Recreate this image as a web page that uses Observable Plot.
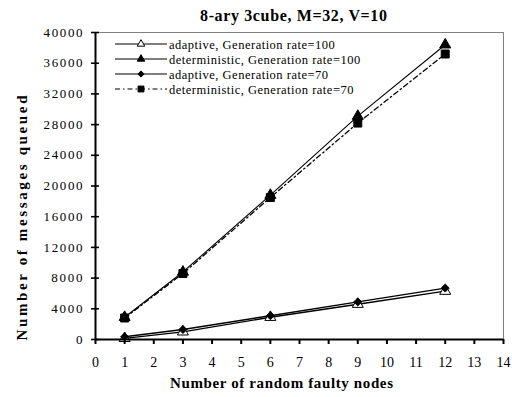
<!DOCTYPE html>
<html><head><meta charset="utf-8">
<script src="https://cdn.jsdelivr.net/npm/d3@7"></script>
<script src="https://cdn.jsdelivr.net/npm/@observablehq/plot@0.6"></script>
<style>body{margin:0;background:#fff} svg{display:block}</style>
</head><body><div id="chart"></div>
<script>
const faultyNodes = [1, 3, 6, 9, 12];
const adaptive100 = [150, 1000, 2900, 4600, 6300];
const deterministic100 = [2900, 8800, 18800, 29100, 38400];
const adaptive70 = [350, 1300, 3100, 4900, 6700];
const deterministic70 = [2800, 8600, 18500, 28200, 37200];
const xTicks = d3.range(0, 15);
const yTicks = [0, 4000, 8000, 12000, 16000, 20000, 24000, 28000, 32000, 36000, 40000];
const seriesNames = [
  "adaptive, Generation rate=100",
  "deterministic, Generation rate=100",
  "adaptive, Generation rate=70",
  "deterministic, Generation rate=70"
];
const titleText = "8-ary 3cube, M=32, V=10";
const xLabel = "Number of random faulty nodes";
const yLabel = "Number of messages queued";

const seriesValues = [adaptive100, deterministic100, adaptive70, deterministic70];
const styles = [
  {symbol: "triangle", fill: "white", r: 4.1, legR: 2.8, dash: null, w: 1.4},
  {symbol: "triangle", fill: "black", r: 4.1, legR: 2.8, dash: null, w: 1.1},
  {symbol: "diamond2", fill: "black", r: 3.6, legR: 2.8, dash: null, w: 1.4},
  {symbol: "square", fill: "black", r: 4.5, legR: 3.3, dash: "5,3,1.5,3", w: 1.3}
];
const series = seriesNames.map((name, i) => ({
  name, style: styles[i],
  data: faultyNodes.map((x, j) => ({x, y: seriesValues[i][j]}))
}));
const serif = "Liberation Serif, Times New Roman, serif";
const drawOrder = [0, 2, 3, 1];

const symMap = {triangle: d3.symbolTriangle, diamond2: d3.symbolDiamond2, square: d3.symbolSquare};

function legend(index, scales, values, dimensions) {
  const g = d3.create("svg:g").attr("font-family", serif).attr("text-anchor", "start");
  series.forEach((s, i) => {
    const y = 44 + i * 15;
    const row = g.append("g");
    row.append("line").attr("x1", 115).attr("x2", 167).attr("y1", y).attr("y2", y)
      .attr("stroke", "black").attr("stroke-width", 1.2)
      .attr("stroke-dasharray", s.style.dash);
    row.append("path").attr("transform", `translate(141,${y})`)
      .attr("d", d3.symbol(symMap[s.style.symbol], Math.PI * s.style.legR ** 2)())
      .attr("fill", s.style.fill).attr("stroke", "black").attr("stroke-width", 1);
    row.append("text").attr("x", 169).attr("y", y + 4.5)
      .attr("font-size", 12.5).attr("letter-spacing", 0.5).attr("fill", "black")
      .text(s.name);
  });
  return g.node();
}

function titles(index, scales, values, dimensions) {
  const {height, marginBottom} = dimensions;
  const g = d3.create("svg:g").attr("font-family", serif).attr("font-weight", "bold")
    .attr("fill", "black").attr("text-anchor", "middle");
  g.append("text").attr("x", 293.5).attr("y", 21)
    .attr("font-size", 16).attr("textLength", 187).attr("lengthAdjust", "spacing").text(titleText);
  g.append("text").attr("x", 281.5).attr("y", height - marginBottom + 49)
    .attr("font-size", 15).attr("textLength", 223).attr("lengthAdjust", "spacing").text(xLabel);
  g.append("text").attr("transform", "translate(27,218) rotate(-90)")
    .attr("font-size", 15).attr("textLength", 245).attr("lengthAdjust", "spacing").text(yLabel);
  return g.node();
}

const marks = [
  Plot.frame({stroke: "#808080", strokeWidth: 1}),
  ...drawOrder.map(i => Plot.line(series[i].data, {
    x: "x", y: "y", stroke: "black", strokeWidth: series[i].style.w,
    strokeDasharray: series[i].style.dash
  })),
  ...drawOrder.map(i => Plot.dot(series[i].data, {
    x: "x", y: "y", symbol: () => series[i].style.symbol, r: series[i].style.r,
    fill: series[i].style.fill, stroke: "black", strokeWidth: 1
  })),
  Plot.ruleX([0], {stroke: "black", strokeWidth: 2}),
  Plot.ruleY([0], {stroke: "black", strokeWidth: 2}),
  Plot.axisX(xTicks, {tickSize: 5, tickPadding: 13, strokeWidth: 2, fontSize: 14,
    fontFamily: serif, label: null}),
  Plot.axisY(yTicks, {tickSize: 8, dx: 4, strokeWidth: 1.6, tickFormat: () => "", label: null}),
  Plot.axisY(yTicks, {tickSize: 0, tickPadding: 13, fontSize: 13, fontFamily: serif,
    tickFormat: d => String(d), label: null}),
  titles,
  legend
];

const chart = Plot.plot({
  width: 512, height: 397,
  marginLeft: 95, marginRight: 9, marginTop: 32, marginBottom: 58,
  x: {domain: [0, 14], axis: null},
  y: {domain: [0, 40000], axis: null},
  style: {fontFamily: serif, color: "black", background: "white"},
  marks
});
const yTickStrings = yTicks.filter(d => d >= 4000).map(String);
chart.querySelectorAll("text").forEach(t => {
  const s = t.textContent;
  if (yTickStrings.includes(s)) {
    t.setAttribute("textLength", (7.8 * s.length).toFixed(1));
    t.setAttribute("lengthAdjust", "spacing");
  }
});
document.getElementById("chart").append(chart);
</script></body></html>
